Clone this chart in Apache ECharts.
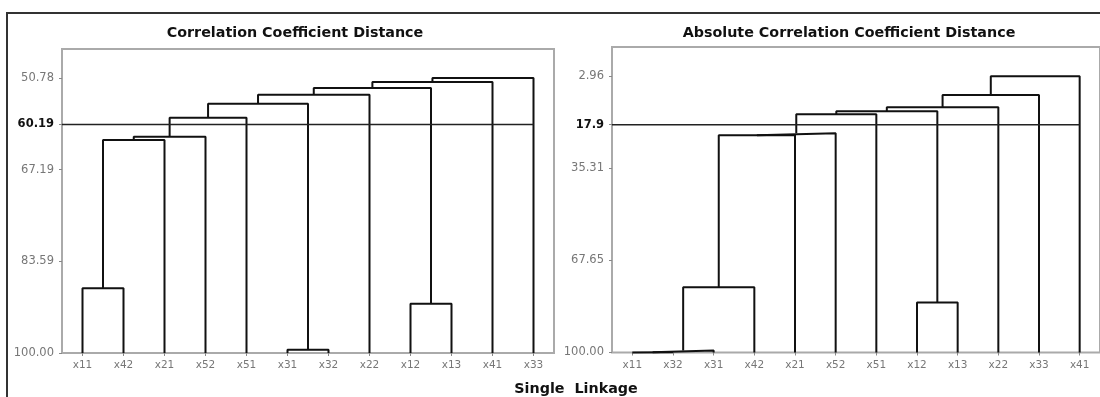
<!DOCTYPE html>
<html>
<head>
<meta charset="utf-8">
<script src="https://cdn.jsdelivr.net/npm/echarts@6/dist/echarts.min.js"></script>
<style>
  html, body { margin: 0; padding: 0; background: #fff; }
  #main { width: 1100px; height: 397px; }
</style>
</head>
<body>
<div id="main"></div>
<script>
// leaf order along the bottom, and merges as [left, right, level]
// (a number means "the merge at that index")
const leftLeaves = ['x11', 'x42', 'x21', 'x52', 'x51', 'x31', 'x32', 'x22', 'x12', 'x13', 'x41', 'x33'];
const leftMerges = [
  ['x31', 'x32', 99.4],
  ['x11', 'x42', 88.4],
  ['x12', 'x13', 91.2],
  [1, 'x21', 61.9],
  [3, 'x52', 61.3],
  [4, 'x51', 57.9],
  [5, 0, 55.4],
  [6, 'x22', 53.8],
  [7, 2, 52.6],
  [8, 'x41', 51.5],
  [9, 'x33', 50.78]
];
const leftTicks = [50.78, 67.19, 83.59, 100.00];
const leftCut = 59.1;
const leftCutLabel = '60.19';

const rightLeaves = ['x11', 'x32', 'x31', 'x42', 'x21', 'x52', 'x51', 'x12', 'x13', 'x22', 'x33', 'x41'];
const rightMerges = [
  ['x11', 'x32', 99.9],
  [0, 'x31', 99.3],
  [1, 'x42', 77.1],
  ['x12', 'x13', 82.4],
  [2, 'x21', 23.7],
  [4, 'x52', 23.0],
  [5, 'x51', 16.3],
  [6, 3, 15.3],
  [7, 'x22', 13.9],
  [8, 'x33', 9.6],
  [9, 'x41', 2.96]
];
const rightTicks = [2.96, 35.31, 67.65, 100.00];
const rightCut = 20.0;
const rightCutLabel = '17.9';

const FONT = 'DejaVu Sans';

// turn a merge list into U-shaped line series
function buildTree(leaves, merges, idx) {
  const pos = {};
  leaves.forEach((n, i) => { pos[n] = [i, 100]; });
  const nodes = [];
  const get = r => (typeof r === 'number' ? nodes[r] : pos[r]);
  return merges.map(([a, b, h]) => {
    const p = get(a), q = get(b);
    nodes.push([(p[0] + q[0]) / 2, h]);
    return {
      type: 'line',
      xAxisIndex: idx,
      yAxisIndex: idx,
      symbol: 'none',
      clip: false,
      lineStyle: { color: '#111', width: 2 },
      data: [[p[0], p[1]], [p[0], h], [q[0], h], [q[0], q[1]]]
    };
  });
}

function cutLine(cut, n, idx) {
  return {
    type: 'line',
    xAxisIndex: idx,
    yAxisIndex: idx,
    symbol: 'none',
    clip: false,
    lineStyle: { color: '#222', width: 1.5 },
    data: [[-0.5, cut], [n - 1, cut]]
  };
}

function xAxis(leaves, idx) {
  const vals = leaves.map((_, i) => i);
  return {
    type: 'value',
    gridIndex: idx,
    min: -0.5,
    max: leaves.length - 0.5,
    splitLine: { show: false },
    axisLine: { show: false, onZero: false },
    axisTick: { show: true, customValues: vals, length: 3, lineStyle: { color: '#888' } },
    axisLabel: {
      customValues: vals,
      formatter: v => leaves[Math.round(v)],
      color: '#777', fontSize: 10.5, fontFamily: FONT, margin: 7
    }
  };
}

function yAxis(ticks, cut, cutLabel, min, idx) {
  const vals = ticks.concat([cut]);
  return {
    type: 'value',
    gridIndex: idx,
    inverse: true,
    min: min,
    max: 100,
    splitLine: { show: false },
    axisLine: { show: false, onZero: false },
    axisTick: { show: true, customValues: vals, length: 3, lineStyle: { color: '#888' } },
    axisLabel: {
      customValues: vals,
      formatter: v => (Math.abs(v - cut) < 1e-6 ? '{b|' + cutLabel + '}' : v.toFixed(2)),
      color: '#777', fontSize: 11.5, fontFamily: FONT, margin: 8,
      rich: { b: { fontWeight: 'bold', color: '#111', fontSize: 11.5, fontFamily: FONT } }
    }
  };
}

const chart = echarts.init(document.getElementById('main'));
chart.setOption({
  animation: false,
  backgroundColor: '#fff',
  grid: [
    { left: 62, top: 49, width: 492, height: 304, show: true, borderColor: '#aaa', borderWidth: 2 },
    { left: 612, top: 47, width: 492, height: 305.5, show: true, borderColor: '#aaa', borderWidth: 2 }
  ],
  xAxis: [xAxis(leftLeaves, 0), xAxis(rightLeaves, 1)],
  yAxis: [
    yAxis(leftTicks, leftCut, leftCutLabel, 45.6, 0),
    yAxis(rightTicks, rightCut, rightCutLabel, -7.3, 1)
  ],
  graphic: [
    { type: 'rect', shape: { x: 7, y: 13, width: 1110, height: 400 },
      style: { fill: 'none', stroke: '#333', lineWidth: 2 }, silent: true },
    { type: 'text', x: 295, y: 33,
      style: { text: 'Correlation Coefficient Distance', font: 'bold 14.3px "DejaVu Sans"',
        fill: '#111', textAlign: 'center', textVerticalAlign: 'middle' } },
    { type: 'text', x: 849, y: 33,
      style: { text: 'Absolute Correlation Coefficient Distance', font: 'bold 14.3px "DejaVu Sans"',
        fill: '#111', textAlign: 'center', textVerticalAlign: 'middle' } },
    { type: 'text', x: 576, y: 389,
      style: { text: 'Single  Linkage', font: 'bold 14.3px "DejaVu Sans"',
        fill: '#111', textAlign: 'center', textVerticalAlign: 'middle' } }
  ],
  series: buildTree(leftLeaves, leftMerges, 0)
    .concat([cutLine(leftCut, leftLeaves.length, 0)])
    .concat(buildTree(rightLeaves, rightMerges, 1))
    .concat([cutLine(rightCut, rightLeaves.length, 1)])
});
</script>
</body>
</html>
